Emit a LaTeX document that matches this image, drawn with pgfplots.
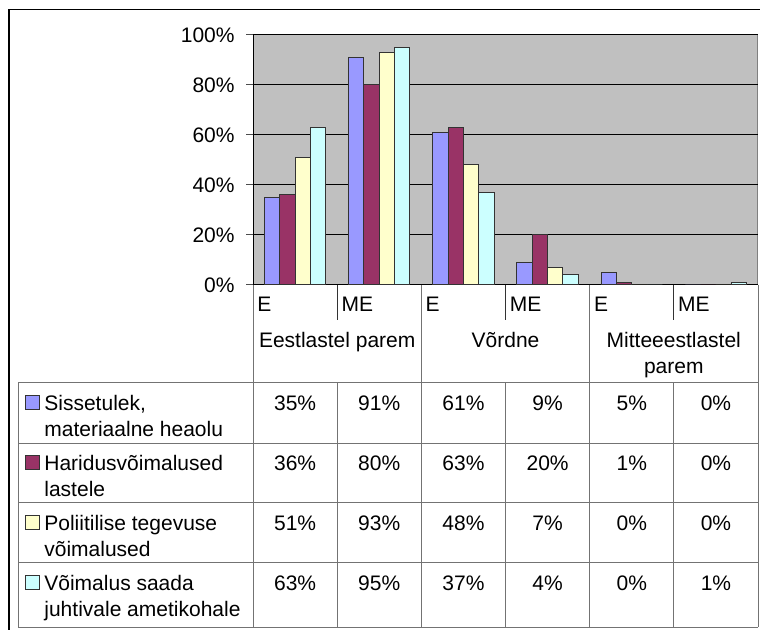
\documentclass[border=0pt]{standalone}
\usepackage{pgfplots}
\pgfplotsset{compat=1.18}
\usepackage{pgfplotstable}
\usepackage{fontspec}
\setmainfont{Liberation Sans}

\definecolor{serA}{HTML}{9999FF}
\definecolor{serB}{HTML}{993366}
\definecolor{serC}{HTML}{FFFFCC}
\definecolor{serD}{HTML}{CCFFFF}
\definecolor{plotbg}{HTML}{C0C0C0}

% columns: E / ME under each of the three answers
\pgfplotstableread{
x s1 s2 s3 s4
0 35 36 51 63
1 91 80 93 95
2 61 63 48 37
3 9  20 7  4
4 5  1  0  0
5 0  0  0  1
}\data

\begin{document}
\fontsize{10.5}{13}\selectfont
\begin{tikzpicture}
\useasboundingbox (0pt,0pt) rectangle (380pt,-315pt);
\begin{axis}[
  at={(126.5pt,-142.5pt)}, anchor=south west,
  scale only axis, width=252.5pt, height=125pt,
  xmin=-0.5, xmax=5.5, ymin=0, ymax=100,
  xtick=\empty,
  ytick={0,20,...,100},
  /pgf/number format/assume math mode=true,
  yticklabel={\pgfmathprintnumber[fixed,precision=0]{\tick}\%},
  yticklabel style={anchor=east,inner sep=0pt,xshift=-5.5pt},
  axis x line*=bottom, axis y line*=left,
  axis line style={-,black,line width=0.5pt},
  tick align=outside, major tick length=3.5pt,
  ytick style={draw=black!70,line width=0.5pt},
  ymajorgrids, grid style={black,line width=0.5pt},
  axis background/.style={fill=plotbg,draw=black!50,line width=0.5pt},
  ybar=0pt, bar width=0.182,
  clip=false,
]
\addplot[fill=serA,draw=black!80,line width=0.5pt] table[x=x,y=s1]{\data};
\addplot[fill=serB,draw=black!80,line width=0.5pt] table[x=x,y=s2]{\data};
\addplot[fill=serC,draw=black!80,line width=0.5pt] table[x=x,y=s3]{\data};
\addplot[fill=serD,draw=black!80,line width=0.5pt] table[x=x,y=s4]{\data};
\end{axis}

\begin{scope}[x=0.5pt,y=-0.5pt,tbl/.style={draw=black!55,line width=0.5pt}]
% outer chart frame (cropped)
\draw[black,line width=0.7pt] (9,630) -- (9,9.5) -- (760,9.5);

% table grid
\draw[tbl] (253,285) -- (253,627);
\draw[tbl] (421.3,285) -- (421.3,627);
\draw[tbl] (589.7,285) -- (589.7,627);
\draw[tbl] (758,285) -- (758,627);
\foreach \xx in {337.2,505.5,673.8} {
  \draw[tbl,draw=black!80] (\xx,285) -- (\xx,320);
  \draw[tbl] (\xx,383) -- (\xx,627);
}
\draw[tbl] (18,383) -- (18,627);
\foreach \yy in {383,443,502.5,562,627}
  \draw[tbl] (18,\yy) -- (758,\yy);

% header labels
\foreach \xx/\lab in {253/E,337.2/ME,421.3/E,505.5/ME,589.7/E,673.8/ME}
  \node[anchor=base west,inner sep=0pt] at (\xx+4,312) {\lab};
\node[anchor=base,inner sep=0pt] at (337.2,348) {Eestlastel parem};
\node[anchor=base,inner sep=0pt] at (505.5,348) {Võrdne};
\node[anchor=base,inner sep=0pt] at (673.8,348) {Mitteeestlastel};
\node[anchor=base,inner sep=0pt] at (673.8,374) {parem};

% legend column
\foreach \ri/\col/\la/\lb in {0/serA/{Sissetulek,}/{materiaalne heaolu},
                              1/serB/{Haridusvõimalused}/{lastele},
                              2/serC/{Poliitilise tegevuse}/{võimalused},
                              3/serD/{Võimalus saada}/{juhtivale ametikohale}} {
  \pgfmathsetmacro\top{383+59.7*\ri}
  \draw[fill=\col,draw=black!80,line width=0.5pt] (25,\top+13) rectangle (39,\top+27);
  \node[anchor=base west,inner sep=0pt] at (44,\top+28) {\la};
  \node[anchor=base west,inner sep=0pt] at (44,\top+54) {\lb};
}

% table values
\foreach \r [count=\ri from 0] in {1,...,4} {
  \foreach \c in {0,...,5} {
    \pgfplotstablegetelem{\c}{s\r}\of\data
    \node[anchor=base,inner sep=0pt] at ({253+84.17*(\c+0.5)},{383+59.7*\ri+28}) {\pgfplotsretval\%};
  }
}
\end{scope}
\end{tikzpicture}
\end{document}
